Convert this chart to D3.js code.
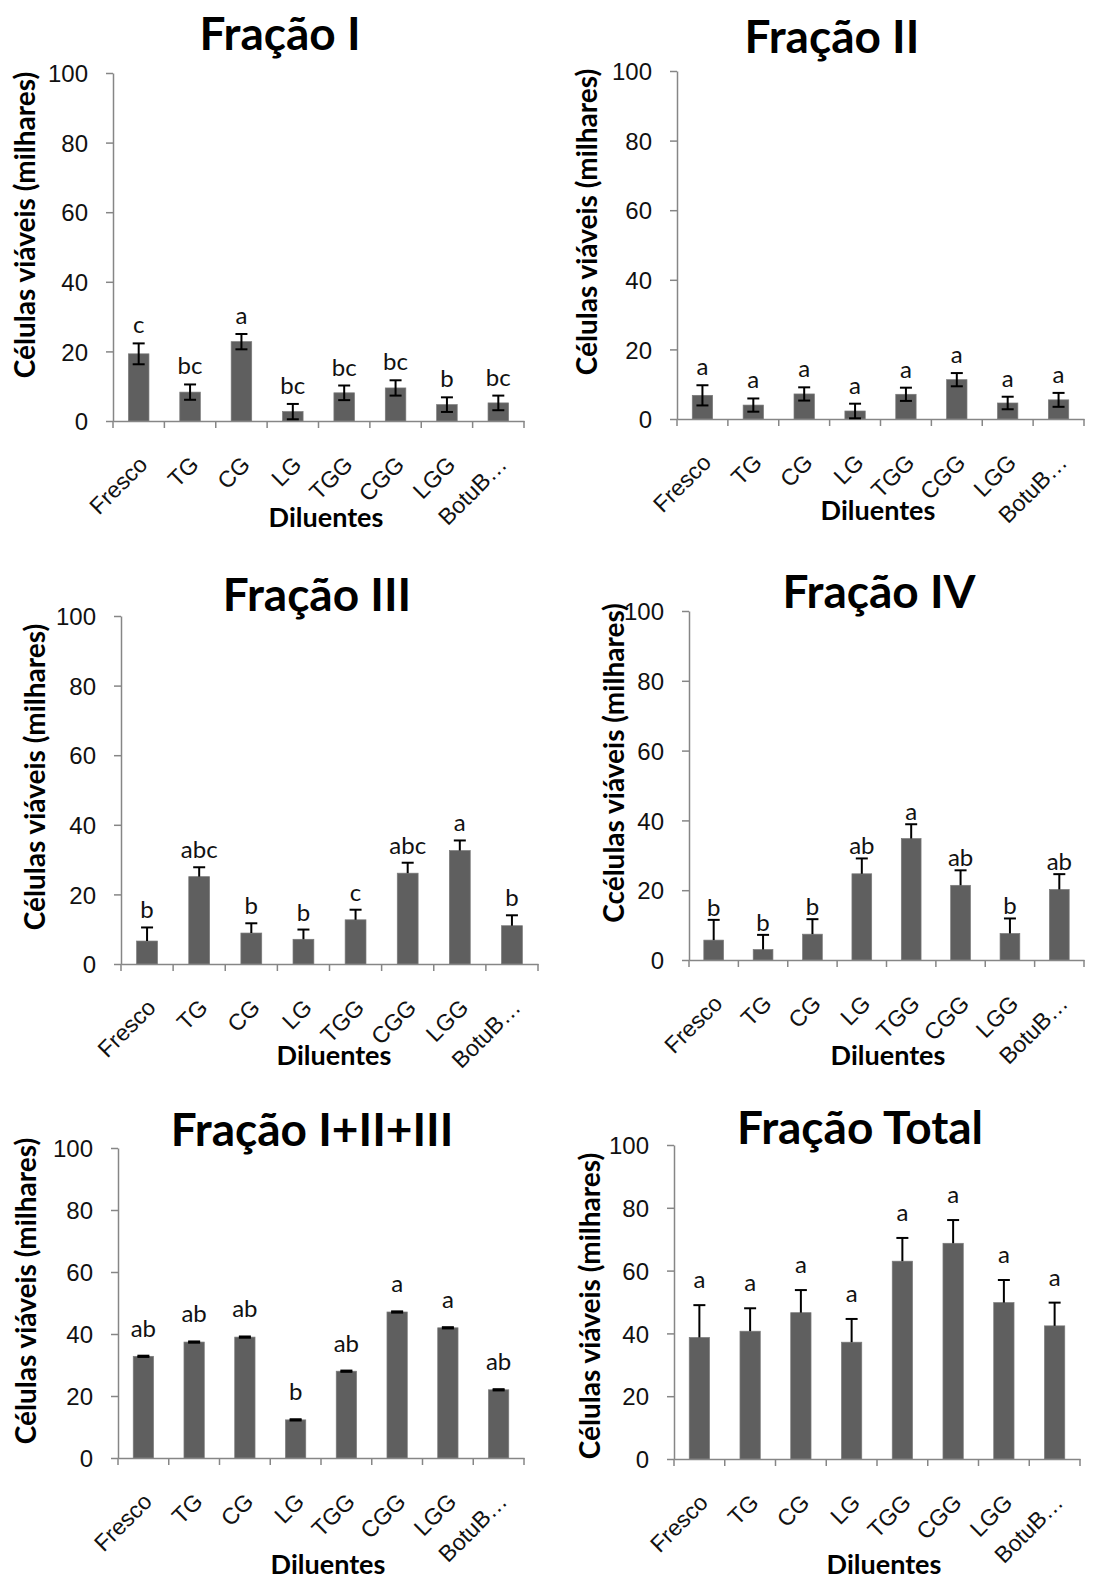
<!DOCTYPE html>
<html>
<head>
<meta charset="utf-8">
<script src="https://cdn.jsdelivr.net/npm/d3@7"></script>
<style>
  body { margin: 0; background: #fff; }
  svg { display: block; font-family: Lato, "Open Sans", sans-serif; }
</style>
</head>
<body>
<svg id="chart" width="1094" height="1582"></svg>
<script>
// categories (diluents)
const categories = ["Fresco", "TG", "CG", "LG", "TGG", "CGG", "LGG", "BotuB\u2026"];

// Fração I
const frac1Means  = [19.3, 8.3, 22.8, 2.7, 8.1, 9.5, 4.7, 5.2];
const frac1Errors = [3.0, 2.2, 2.2, 2.2, 2.1, 2.2, 2.1, 2.1];
const frac1Letters = ["c", "bc", "a", "bc", "bc", "bc", "b", "bc"];

// Fração II
const frac2Means  = [6.8, 4.0, 7.2, 2.3, 7.1, 11.3, 4.6, 5.5];
const frac2Errors = [2.9, 1.9, 1.9, 2.1, 1.9, 1.9, 1.8, 2.0];
const frac2Letters = ["a", "a", "a", "a", "a", "a", "a", "a"];

// Fração III
const frac3Means  = [6.6, 25.1, 8.9, 7.1, 12.7, 26.1, 32.6, 11.0];
const frac3Errors = [3.9, 2.7, 2.8, 2.8, 2.9, 3.0, 2.9, 3.0];
const frac3Letters = ["b", "abc", "b", "b", "c", "abc", "a", "b"];

// Fração IV
const frac4Means  = [5.7, 3.0, 7.4, 24.7, 34.8, 21.4, 7.6, 20.2];
const frac4Errors = [5.8, 4.2, 4.3, 4.4, 4.1, 4.3, 4.3, 4.4];
const frac4Letters = ["b", "b", "b", "ab", "a", "ab", "b", "ab"];

// Fração I+II+III
const frac123Means  = [32.8, 37.4, 39.0, 12.3, 28.0, 47.1, 42.0, 22.0];
const frac123Errors = [0.2, 0.2, 0.2, 0.2, 0.2, 0.2, 0.2, 0.2];
const frac123Letters = ["ab", "ab", "ab", "b", "ab", "a", "a", "ab"];

// Fração Total
const fracTotalMeans  = [38.7, 40.7, 46.6, 37.2, 63.0, 68.7, 49.8, 42.4];
const fracTotalErrors = [10.3, 7.3, 7.2, 7.4, 7.4, 7.4, 7.2, 7.4];
const fracTotalLetters = ["a", "a", "a", "a", "a", "a", "a", "a"];

const yTicks = [0, 20, 40, 60, 80, 100];

const panels = [
	{ title: "Fração I", yLabel: "Células viáveis (milhares)", means: frac1Means, errors: frac1Errors, letters: frac1Letters, errMode: "both",
	  box: { left: 113, right: 524, top: 73, bottom: 421 }, titlePos: [280, 50], yLabelPos: [25, 225], xLabelPos: [326, 527], letterGap: 10 },
	{ title: "Fração II", yLabel: "Células viáveis (milhares)", means: frac2Means, errors: frac2Errors, letters: frac2Letters, errMode: "both",
	  box: { left: 677, right: 1084, top: 71, bottom: 419 }, titlePos: [832, 53], yLabelPos: [587, 222], xLabelPos: [878, 520], letterGap: 10 },
	{ title: "Fração III", yLabel: "Células viáveis (milhares)", means: frac3Means, errors: frac3Errors, letters: frac3Letters, errMode: "plus",
	  box: { left: 121, right: 538, top: 616, bottom: 964 }, titlePos: [317, 611], yLabelPos: [35, 777], xLabelPos: [334, 1065], letterGap: 9 },
	{ title: "Fração IV", yLabel: "Ccélulas viáveis (milhares)", means: frac4Means, errors: frac4Errors, letters: frac4Letters, errMode: "plus",
	  box: { left: 689, right: 1084, top: 611, bottom: 960 }, titlePos: [879, 608], yLabelPos: [614, 763], xLabelPos: [888, 1065], letterGap: 4 },
	{ title: "Fração I+II+III", yLabel: "Células viáveis (milhares)", means: frac123Means, errors: frac123Errors, letters: frac123Letters, errMode: "both",
	  box: { left: 118, right: 524, top: 1148, bottom: 1458 }, titlePos: [312, 1146], yLabelPos: [26, 1291], xLabelPos: [328, 1574], letterGap: 19 },
	{ title: "Fração Total", yLabel: "Células viáveis (milhares)", means: fracTotalMeans, errors: fracTotalErrors, letters: fracTotalLetters, errMode: "plus",
	  box: { left: 674, right: 1080, top: 1145, bottom: 1459 }, titlePos: [860, 1144], yLabelPos: [590, 1306], xLabelPos: [884, 1574], letterGap: 17 }
];

const svg = d3.select("#chart");
const axisColor = "#868686";
const barColor = "#5f5f5f";

panels.forEach(p => drawPanel(svg, p));

function drawPanel(svg, p) {
	const b = p.box;
	const g = svg.append("g");
	const data = categories.map((c, i) => ({ cat: c, mean: p.means[i], err: p.errors[i], letter: p.letters[i] }));

	let x = d3.scaleBand()
		.domain(categories)
		.range([b.left, b.right])
		.paddingInner(0.6)
		.paddingOuter(0.3);

	let y = d3.scaleLinear()
		.domain([0, 100])
		.range([b.bottom, b.top]);

	// y axis
	let yAxis = g.append("g")
		.attr("transform", "translate(" + b.left + ",0)")
		.call(d3.axisLeft(y).tickValues(yTicks).tickSize(7).tickSizeOuter(0).tickPadding(18));
	yAxis.select(".domain").attr("stroke", axisColor).attr("stroke-width", 1.5);
	yAxis.selectAll(".tick line").attr("stroke", axisColor).attr("stroke-width", 1.5);
	yAxis.selectAll("text")
		.style("font-size", "24px")
		.attr("fill", "#111")
		.attr("dy", "0.36em");

	// bars
	g.selectAll(".bar")
		.data(data)
		.enter()
		.append("rect")
			.attr("class", "bar")
			.attr("x", d => x(d.cat))
			.attr("y", d => y(d.mean))
			.attr("width", x.bandwidth())
			.attr("height", d => y(0) - y(d.mean))
			.attr("fill", barColor)
			.attr("stroke", "#7a7a7a")
			.attr("stroke-width", 0.7);

	// x axis (categories, ticks between bands)
	let xAxis = g.append("g")
		.attr("transform", "translate(0," + b.bottom + ")")
		.call(d3.axisBottom(x).tickSize(0).tickSizeOuter(0).tickPadding(0));
	xAxis.select(".domain").attr("stroke", axisColor).attr("stroke-width", 1.5);
	xAxis.selectAll("text")
		.style("font-size", "23px")
		.attr("fill", "#111")
		.attr("y", 0)
		.attr("dy", 0)
		.attr("text-anchor", "end")
		.attr("transform", "translate(10,45) rotate(-45)");

	let bounds = d3.range(categories.length + 1).map(i => b.left + i * x.step());
	g.selectAll(".xtick")
		.data(bounds)
		.enter()
		.append("line")
			.attr("x1", d => d).attr("x2", d => d)
			.attr("y1", b.bottom).attr("y2", b.bottom + 7)
			.attr("stroke", axisColor)
			.attr("stroke-width", 1.5);

	// error bars
	const cap = 6;
	let eb = g.selectAll(".err")
		.data(data)
		.enter()
		.append("g")
			.attr("class", "err")
			.attr("transform", d => "translate(" + (x(d.cat) + x.bandwidth() / 2) + ",0)");
	eb.append("line")
		.attr("y1", d => y(d.mean + d.err))
		.attr("y2", d => p.errMode === "both" ? y(d.mean - d.err) : y(d.mean))
		.attr("stroke", "#000")
		.attr("stroke-width", 2);
	eb.append("line")
		.attr("x1", -cap).attr("x2", cap)
		.attr("y1", d => y(d.mean + d.err)).attr("y2", d => y(d.mean + d.err))
		.attr("stroke", "#000")
		.attr("stroke-width", 2);
	if (p.errMode === "both") {
		eb.append("line")
			.attr("x1", -cap).attr("x2", cap)
			.attr("y1", d => y(d.mean - d.err)).attr("y2", d => y(d.mean - d.err))
			.attr("stroke", "#000")
			.attr("stroke-width", 2);
	}

	// significance letters
	g.selectAll(".letter")
		.data(data)
		.enter()
		.append("text")
			.attr("class", "letter")
			.attr("x", d => x(d.cat) + x.bandwidth() / 2)
			.attr("y", d => y(d.mean + d.err) - p.letterGap)
			.attr("text-anchor", "middle")
			.style("font-size", "24px")
			.attr("fill", "#111")
			.text(d => d.letter);

	// titles
	g.append("text")
		.attr("x", p.titlePos[0])
		.attr("y", p.titlePos[1])
		.attr("text-anchor", "middle")
		.style("font-size", "46px")
		.style("font-weight", "bold")
		.text(p.title);

	g.append("text")
		.attr("transform", "translate(" + p.yLabelPos[0] + "," + p.yLabelPos[1] + ") rotate(-90)")
		.attr("text-anchor", "middle")
		.attr("dy", "0.35em")
		.style("font-size", "28px")
		.style("font-weight", "bold")
		.text(p.yLabel);

	g.append("text")
		.attr("x", p.xLabelPos[0])
		.attr("y", p.xLabelPos[1])
		.attr("text-anchor", "middle")
		.style("font-size", "27px")
		.style("font-weight", "bold")
		.text("Diluentes");
}
</script>
</body>
</html>
